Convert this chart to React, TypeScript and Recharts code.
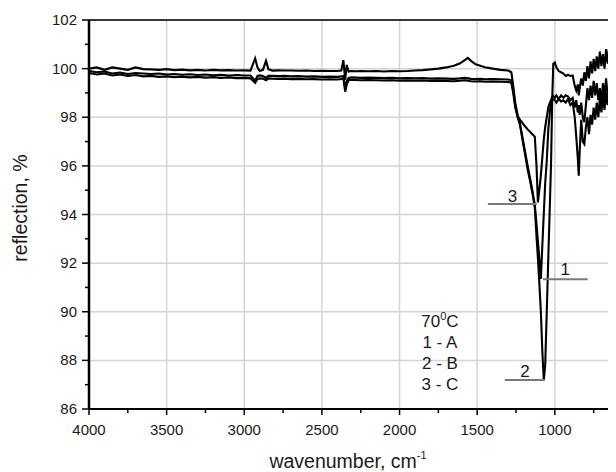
import { CartesianGrid, Label, Line, LineChart, ReferenceDot, ReferenceLine, XAxis, YAxis } from 'recharts'

// wavenumber grid, cm-1 (shared by the three spectra)
const wavenumbers = [
  4000, 3950, 3900, 3850, 3800, 3750, 3700, 3650, 3600, 3550,
  3500, 3450, 3400, 3350, 3300, 3250, 3200, 3150, 3100, 3050,
  3000,
  2960, 2930, 2915, 2900, 2880, 2860, 2845, 2820, 2780, 2740,
  2700, 2650, 2600, 2550, 2500, 2450, 2400, 2375, 2362, 2350,
  2340, 2328, 2310, 2280, 2250, 2200, 2150, 2100, 2050, 2000,
  1950, 1900, 1850, 1800, 1750, 1700, 1650, 1610, 1580, 1560,
  1540, 1510, 1480, 1450, 1400, 1350, 1300, 1280,
  1268, 1255, 1240, 1225, 1212, 1195, 1175, 1160, 1145, 1129,
  1118, 1109, 1100, 1090, 1080, 1071, 1062, 1052, 1042, 1032,
  1024, 1017, 1010, 1000, 990, 975, 960, 945, 930, 915,
  900, 885, 872, 862, 852, 846, 840, 830, 820, 810,
  800, 790, 780, 770, 760, 750, 740, 730, 720, 710,
  700, 690, 680, 670, 660, 650, 640, 630, 620, 610,
  600,
]

// spectrum 1 (A)
const sampleA = [
  99.9, 99.85, 99.88, 99.8, 99.84, 99.78, 99.82, 99.8, 99.78, 99.8,
  99.76, 99.78, 99.75, 99.77, 99.74, 99.76, 99.73, 99.75, 99.72, 99.74,
  99.72,
  99.72, 99.5, 99.7, 99.72, 99.7, 99.62, 99.7, 99.7, 99.69, 99.7,
  99.68, 99.69, 99.67, 99.68, 99.66, 99.67, 99.66, 99.68, 99.7, 99.2,
  99.5, 99.62, 99.64, 99.63, 99.62, 99.63, 99.62, 99.61, 99.62, 99.6,
  99.61, 99.6, 99.61, 99.59, 99.6, 99.59, 99.58, 99.6, 99.62, 99.6,
  99.58, 99.57, 99.58, 99.56, 99.57, 99.56, 99.55, 99.52,
  99.1, 98.5, 98.0, 97.7, 97.3, 96.7, 96.0, 95.5, 95.0, 94.4,
  93.6, 92.9, 92.2, 91.35, 92.8, 94.05, 95.3, 96.2, 97.5, 98.2,
  98.7, 98.85, 98.88, 98.8, 98.9, 98.75, 98.9, 98.8, 98.9, 98.85,
  98.7, 98.8, 98.4, 98.7, 98.2, 98.5, 98.1, 98.6, 98.0, 97.8,
  98.5, 99.2, 98.7, 99.3, 98.8, 99.5, 98.9, 99.4, 98.7, 99.2,
  98.6, 99.4, 98.8, 99.6, 98.9, 99.3, 98.6, 99.5, 98.9, 99.6,
  99.0,
]

// spectrum 2 (B)
const sampleB = [
  100.0, 100.05, 99.95, 100.05, 100.0, 99.95, 100.05, 99.98, 99.97, 99.95,
  99.98, 99.94, 99.96, 99.93, 99.95, 99.92, 99.95, 99.93, 99.94, 99.92,
  99.93,
  99.92, 100.42, 100.05, 99.9, 99.95, 100.32, 99.98, 99.92, 99.93, 99.92,
  99.92, 99.91, 99.92, 99.9, 99.91, 99.9, 99.9, 99.92, 100.35, 99.55,
  100.15, 99.88, 99.9, 99.89, 99.9, 99.89, 99.9, 99.88, 99.9, 99.89,
  99.9, 99.92, 99.94, 99.97, 100.0, 100.05, 100.12, 100.22, 100.35, 100.44,
  100.32, 100.18, 100.12, 100.06, 100.0, 99.95, 99.92, 99.85,
  99.3, 98.6, 98.1, 97.76, 97.2, 96.6, 95.85, 95.4, 94.9, 94.3,
  93.1, 92.2, 91.2, 90.0, 88.3, 87.2, 87.8, 90.0, 92.25, 94.4,
  96.2, 98.7, 100.2, 100.25, 100.05, 99.9, 99.85, 99.8, 99.7, 99.75,
  99.7, 99.72, 99.3, 99.1, 99.35, 98.9, 99.2, 99.6, 99.3, 99.85,
  99.5, 100.1, 99.6, 100.3, 99.8, 100.4, 99.9, 100.5, 100.0, 100.7,
  100.1, 100.6, 100.0, 100.8, 100.2, 100.9, 100.3, 101.0, 100.4, 98.7,
  99.5,
]

// spectrum 3 (C)
const sampleC = [
  99.82, 99.76, 99.8, 99.72, 99.76, 99.7, 99.74, 99.68, 99.7, 99.66,
  99.68, 99.65, 99.67, 99.64, 99.66, 99.63, 99.65, 99.62, 99.64, 99.61,
  99.62,
  99.6, 99.42, 99.58, 99.6, 99.59, 99.52, 99.6, 99.59, 99.58, 99.59,
  99.57, 99.58, 99.56, 99.57, 99.55, 99.56, 99.55, 99.57, 99.6, 99.05,
  99.35, 99.52, 99.54, 99.53, 99.52, 99.53, 99.52, 99.51, 99.52, 99.5,
  99.51, 99.5, 99.51, 99.49, 99.5, 99.49, 99.48, 99.5, 99.52, 99.5,
  99.48, 99.47, 99.48, 99.46, 99.47, 99.46, 99.45, 99.42,
  99.0, 98.4, 98.05, 97.9, 97.8, 97.65, 97.5, 97.4, 97.3, 97.2,
  96.0, 94.5, 95.0, 95.6, 96.4, 97.1, 97.6, 98.0, 98.4, 98.6,
  98.7, 98.72, 98.75, 98.7, 98.6, 98.75, 98.65, 98.7, 98.6, 98.75,
  98.5, 98.6, 98.0, 97.2, 96.3, 95.6, 96.6, 97.9, 97.0, 96.9,
  97.6, 98.0, 97.3, 98.1, 97.7, 98.4, 97.9, 98.6, 98.0, 98.8,
  98.2, 98.9, 98.3, 99.0, 98.5, 99.2, 98.6, 98.9, 97.2, 96.2,
  96.6,
]

const xTicks = [4000, 3750, 3500, 3250, 3000, 2750, 2500, 2250, 2000, 1750, 1500, 1250, 1000, 750]
const yTicks = [86, 87, 88, 89, 90, 91, 92, 93, 94, 95, 96, 97, 98, 99, 100, 101, 102]
const xGrid = [3500, 3000, 2500, 2000, 1500, 1000, 500]
const yGrid = [88, 90, 92, 94, 96, 98, 100]

// numbered leader lines pointing at the minima
const markers = [
  { label: '1', from: 1077, to: 788, level: 91.34, offset: 4 },
  { label: '2', from: 1322, to: 1064, level: 87.19, offset: 3 },
  { label: '3', from: 1431, to: 1116, level: 94.43, offset: 2 },
]

const temperature = 70
const noteLines = ['1 - A', '2 - B', '3 - C']
const notePos = { wn: 1740, level: 89.61 }

const data = wavenumbers.map((wn, i) => ({ wn, a: sampleA[i], b: sampleB[i], c: sampleC[i] }))

const FONT = '"Liberation Sans", Arial, sans-serif'
const INK = '#1a1a1a'

function XTick({ x, y, payload }: any) {
  const major = payload.value % 500 === 0
  return (
    <g>
      <line x1={x} x2={x} y1={y} y2={y + (major ? 6 : 4)} stroke="#000" strokeWidth={1.5} />
      {major && (
        <text x={x} y={y + 26} textAnchor="middle" fontSize={15} fill={INK} fontFamily={FONT}>
          {payload.value}
        </text>
      )}
    </g>
  )
}

function YTick({ x, y, payload }: any) {
  const major = payload.value % 2 === 0
  return (
    <g>
      <line x1={x - (major ? 7 : 4)} x2={x} y1={y} y2={y} stroke="#000" strokeWidth={1.5} />
      {major && (
        <text x={x - 12} y={y + 5} textAnchor="end" fontSize={15} fill={INK} fontFamily={FONT}>
          {payload.value}
        </text>
      )}
    </g>
  )
}

function XTitle({ viewBox }: any) {
  return (
    <text x={viewBox.x + 259} y={viewBox.y + 59} textAnchor="middle" fontSize={19.5} fill={INK} fontFamily={FONT}>
      wavenumber, cm
      <tspan dy={-9} fontSize={11}>-1</tspan>
    </text>
  )
}

function YTitle({ viewBox }: any) {
  const cx = 19
  const cy = viewBox.y + 188
  return (
    <text x={cx} y={cy} transform={`rotate(-90, ${cx}, ${cy})`} textAnchor="middle" fontSize={19.5} fill={INK} fontFamily={FONT}>
      reflection, %
    </text>
  )
}

function NoteBlock({ viewBox }: any) {
  const cx = viewBox.x + viewBox.width / 2
  const cy = viewBox.y + viewBox.height / 2 + 6
  return (
    <g fontSize={17} fill={INK} fontFamily={FONT} textAnchor="middle">
      <text x={cx} y={cy}>
        {temperature}
        <tspan dy={-7} fontSize={11}>0</tspan>
        <tspan dy={7}>C</tspan>
      </text>
      {noteLines.map((t, i) => (
        <text key={t} x={cx} y={cy + 21 * (i + 1)}>
          {t}
        </text>
      ))}
    </g>
  )
}

export default function App() {
  return (
    <div style={{ width: 608, height: 464, overflow: 'hidden' }}>
      <LineChart width={652} height={464} data={data} margin={{ top: 12, right: 12, bottom: 0, left: 0 }}>
        <XAxis xAxisId="grid" type="number" dataKey="wn" domain={[400, 4000]} reversed hide ticks={xGrid} allowDataOverflow />
        <YAxis yAxisId="grid" type="number" domain={[86, 102]} hide ticks={yGrid} allowDataOverflow />
        <CartesianGrid xAxisId="grid" yAxisId="grid" stroke="#d4d4d4" strokeWidth={1.5} />

        <XAxis
          type="number"
          dataKey="wn"
          domain={[400, 4000]}
          reversed
          allowDataOverflow
          ticks={xTicks}
          interval={0}
          height={63}
          tickSize={0}
          tickMargin={0}
          tickLine={false}
          tick={<XTick />}
          axisLine={{ stroke: '#000', strokeWidth: 2 }}
        >
          <Label content={<XTitle />} />
        </XAxis>
        <YAxis
          type="number"
          domain={[86, 102]}
          allowDataOverflow
          ticks={yTicks}
          interval={0}
          width={81}
          tickSize={0}
          tickMargin={0}
          tickLine={false}
          tick={<YTick />}
          axisLine={{ stroke: '#000', strokeWidth: 2.5 }}
        >
          <Label content={<YTitle />} />
        </YAxis>

        <ReferenceLine y={102} stroke="#000" strokeWidth={1.5} />

        <Line type="linear" dataKey="a" stroke="#000" strokeWidth={2.1} dot={false} isAnimationActive={false} />
        <Line type="linear" dataKey="b" stroke="#000" strokeWidth={2.1} dot={false} isAnimationActive={false} />
        <Line type="linear" dataKey="c" stroke="#000" strokeWidth={2.1} dot={false} isAnimationActive={false} />

        {markers.map((m) => (
          <ReferenceLine
            key={m.label}
            segment={[
              { x: m.from, y: m.level },
              { x: m.to, y: m.level },
            ]}
            stroke="#7a7a7a"
            strokeWidth={2}
            label={{ value: m.label, position: 'top', offset: m.offset, fill: INK, fontSize: 17, fontFamily: FONT }}
          />
        ))}

        <ReferenceDot x={notePos.wn} y={notePos.level} r={0} fill="none" stroke="none">
          <Label content={<NoteBlock />} />
        </ReferenceDot>
      </LineChart>
    </div>
  )
}
